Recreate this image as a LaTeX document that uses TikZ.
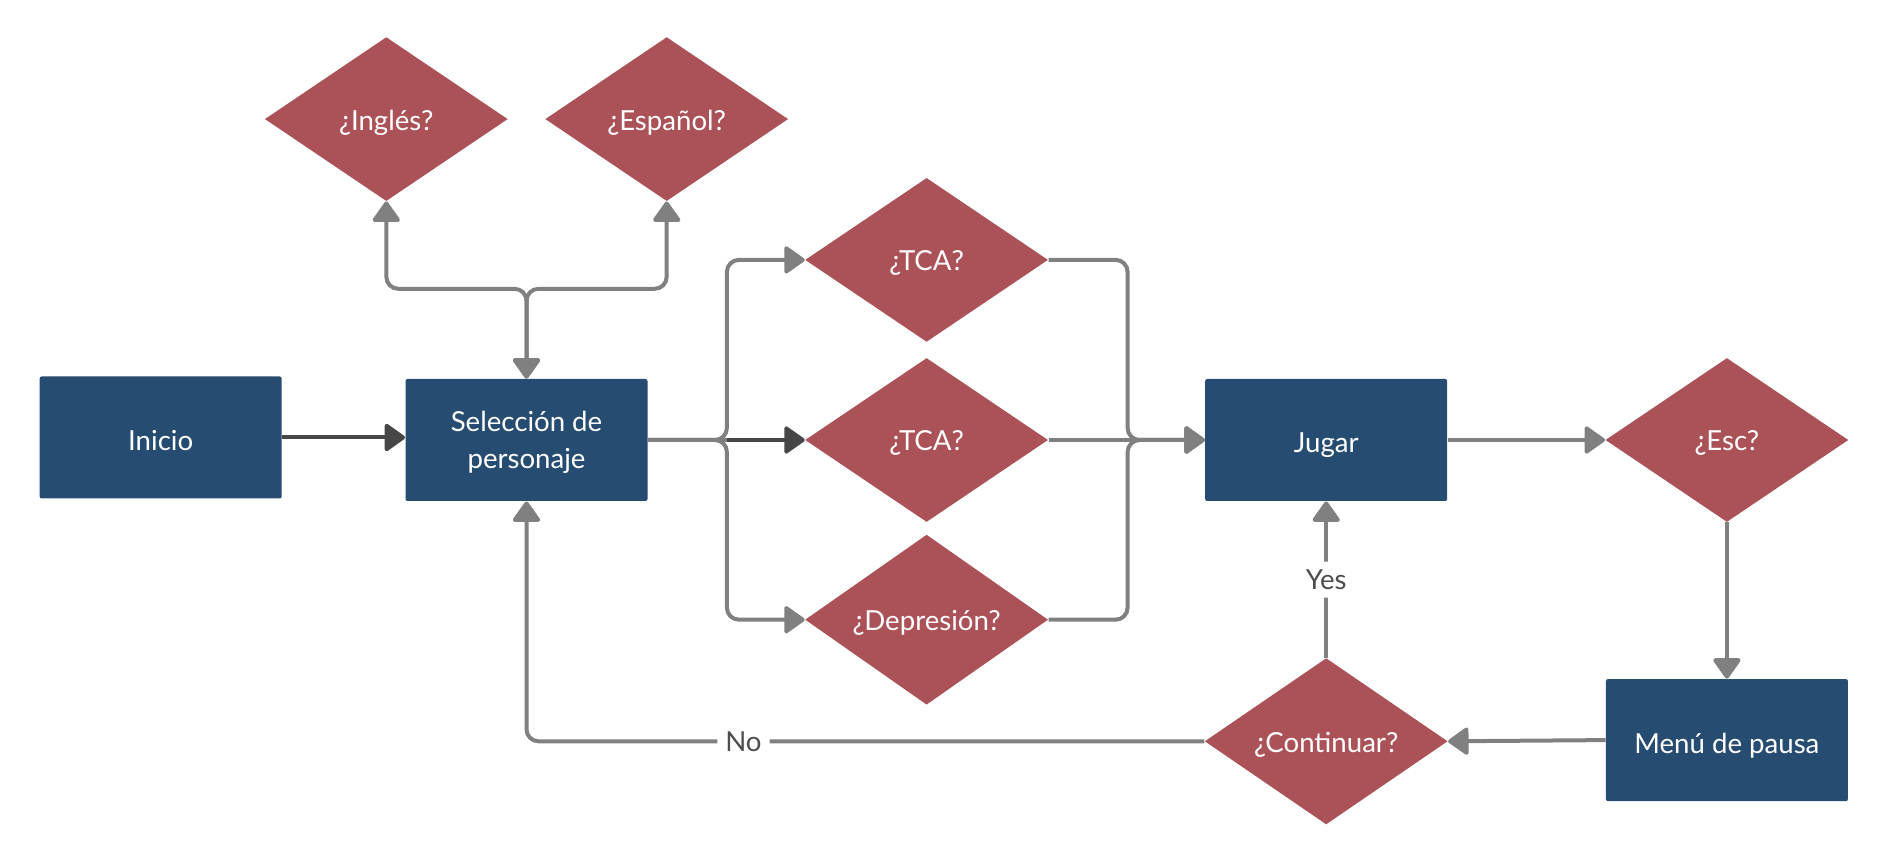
\documentclass[tikz,border=0pt]{standalone}
\usepackage{fontspec}
\setmainfont{Lato}
\usetikzlibrary{shapes.geometric,arrows.meta}
\definecolor{boxblue}{HTML}{274C71}
\definecolor{diared}{HTML}{AB5259}
\definecolor{linegray}{HTML}{808080}
\definecolor{darkline}{HTML}{474747}
\definecolor{labelgray}{HTML}{4D4D4D}
\begin{document}
\begin{tikzpicture}[x=0.5pt,y=-0.5pt,
  txt/.style={font=\fontsize{13.8}{18.7}\selectfont},
  procbox/.style={txt, rectangle, fill=boxblue, text=white, minimum width=121pt, minimum height=61pt, inner sep=0pt, rounded corners=1pt, align=center, text height=13pt, text depth=0pt},
  decision/.style={txt, diamond, fill=diared, text=white, minimum width=121.5pt, minimum height=82pt, inner sep=0pt, align=center, text height=11pt, text depth=0pt},
  wire/.style={draw=linegray, line width=2pt, rounded corners=6pt},
  tip/.tip={Triangle[length=11pt,width=15pt,round]},
  conn/.style={wire, -tip},
  biconn/.style={wire, tip-tip},
  darkconn/.style={draw=darkline, line width=2pt, -tip},
  lbl/.style={txt, fill=white, text=labelgray, inner sep=4pt}
]
\useasboundingbox (0,0) rectangle (1887,860);

% nodes
\node[procbox] (inicio) at (160.7,437.5) {Inicio};
\node[procbox, text height=29pt] (sel) at (526.5,440) {Selección de\\personaje};
\node[decision] (ingles) at (386.3,119.1) {¿Inglés?};
\node[decision] (espanol) at (666.7,119.1) {¿Español?};
\node[decision] (tca1) at (926.6,259.9) {¿TCA?};
\node[decision] (tca2) at (926.6,440) {¿TCA?};
\node[decision] (dep) at (926.6,619.7) {¿Depresión?};
\node[procbox] (jugar) at (1326.2,440) {Jugar};
\node[decision] (esc) at (1726.9,440) {¿Esc?};
\node[procbox] (menu) at (1726.9,740.1) {Menú de pausa};
\node[decision] (cont) at (1326.2,741.3) {¿Continuar?};

\coordinate (j) at (526.5,288.8);
\coordinate (lb) at (726.9,440);
\coordinate (rb) at (1127.6,440);

% connectors
\draw[darkconn] (inicio.east) -- (inicio.east -| sel.west);
\draw[biconn] (ingles.south) |- (j) -- (sel.north);
\draw[biconn] (espanol.south) |- (j) -- (sel.north);

\draw[wire] (sel.east) -- (lb);
\draw[conn] (sel.east) -- (lb) |- (tca1.west);
\draw[conn] (sel.east) -- (lb) |- (dep.west);
\draw[darkconn] (lb) -- (tca2.west);

\draw[conn] (tca1.east) -| (rb) -- (jugar.west);
\draw[conn] (dep.east) -| (rb) -- (jugar.west);
\draw[conn] (tca2.east) -- (jugar.west);

\draw[conn] (jugar.east) -- (esc.west);
\draw[conn] (esc.south) -- (menu.north);
\draw[conn] (menu.west) -- (cont.east);
\draw[conn] (cont.north) -- node[lbl] {Yes} (jugar.south);
\draw[conn] (cont.west) -| node[lbl,pos=0.34] {No} (sel.south);
\end{tikzpicture}
\end{document}
